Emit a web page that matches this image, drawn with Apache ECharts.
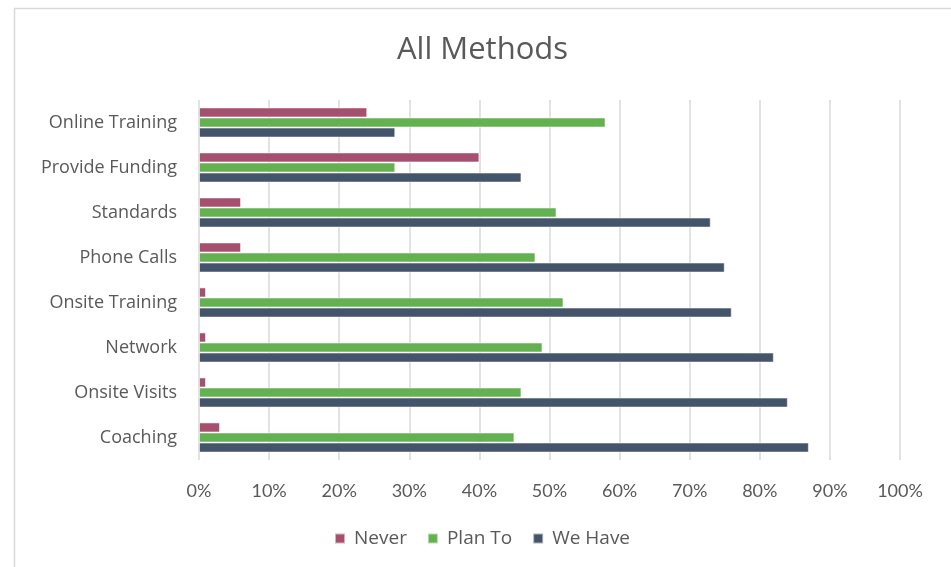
<!DOCTYPE html>
<html>
<head>
<meta charset="utf-8">
<script src="https://cdn.jsdelivr.net/npm/echarts@6/dist/echarts.min.js"></script>
<style>
  html, body { margin: 0; padding: 0; background: #ffffff; }
  #chart { width: 951px; height: 567px; }
</style>
</head>
<body>
<div id="chart"></div>
<script>
// Methods, listed top to bottom
const categories = ['Online Training', 'Provide Funding', 'Standards', 'Phone Calls',
  'Onsite Training', 'Network', 'Onsite Visits', 'Coaching'];

// Share of respondents (%) per method
const neverValues   = [24, 40, 6, 6, 1, 1, 1, 3];
const planToValues  = [58, 28, 51, 48, 52, 49, 46, 45];
const weHaveValues  = [28, 46, 73, 75, 76, 82, 84, 87];

const seriesNames = ['Never', 'Plan To', 'We Have'];
const xTicks = [0, 10, 20, 30, 40, 50, 60, 70, 80, 90, 100];

const colors = ['#A5506E', '#64B152', '#44546A'];
const textColor = '#595959';
const labelFont = '"Open Sans", Lato, sans-serif';
const numberFont = 'Lato, "Open Sans", sans-serif';

const chart = echarts.init(document.getElementById('chart'), null, { renderer: 'canvas' });

function barSeries(name, values, color) {
  return {
    name: name,
    type: 'bar',
    data: values,
    barGap: '0%',
    barCategoryGap: '33%',
    itemStyle: { color: color, borderColor: 'rgba(255,255,255,0.55)', borderWidth: 1 },
    emphasis: { disabled: true },
    animation: false
  };
}

chart.setOption({
  backgroundColor: '#ffffff',
  animation: false,
  textStyle: { fontFamily: labelFont },
  title: {
    text: 'All Methods',
    left: 392,
    top: 30,
    textStyle: { fontFamily: labelFont, fontSize: 31, fontWeight: 'normal', color: textColor }
  },
  graphic: [{
    type: 'rect',
    silent: true,
    shape: { x: 14.5, y: 8.5, width: 1000, height: 1000 },
    style: { fill: 'none', stroke: '#d9d9d9', lineWidth: 1.5 }
  }],
  legend: {
    data: seriesNames,
    bottom: 14,
    left: 329,
    itemWidth: 10,
    itemHeight: 10,
    itemGap: 20,
    icon: 'rect',
    textStyle: { fontFamily: labelFont, fontSize: 19, color: textColor, padding: [0, 0, 0, 4] }
  },
  grid: { left: 199, right: 51, top: 100, bottom: 107, containLabel: false },
  xAxis: {
    type: 'value',
    min: xTicks[0],
    max: xTicks[xTicks.length - 1],
    interval: 10,
    axisLine: { show: false },
    axisTick: { show: false },
    splitLine: { show: true, lineStyle: { color: '#d9d9d9', width: 1.5 } },
    axisLabel: {
      margin: 22,
      color: textColor,
      fontFamily: numberFont,
      fontSize: 18,
      formatter: v => v + '%'
    }
  },
  yAxis: {
    type: 'category',
    data: categories,
    inverse: true,
    axisLine: { show: false },
    axisTick: { show: false },
    splitLine: { show: false },
    axisLabel: {
      margin: 22,
      color: textColor,
      fontFamily: labelFont,
      fontSize: 18
    }
  },
  series: [
    barSeries(seriesNames[0], neverValues, colors[0]),
    barSeries(seriesNames[1], planToValues, colors[1]),
    barSeries(seriesNames[2], weHaveValues, colors[2])
  ]
});
</script>
</body>
</html>
